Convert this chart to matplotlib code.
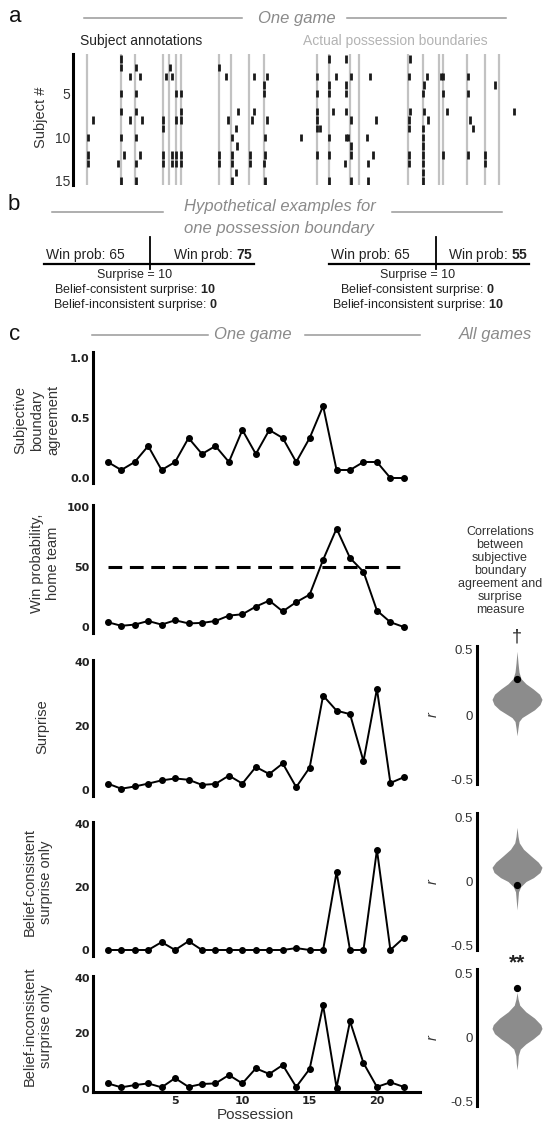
import numpy as np
import matplotlib
matplotlib.use("Agg")
import matplotlib.pyplot as plt

plt.rcParams["font.family"] = ["Liberation Sans", "DejaVu Sans"]
plt.rcParams["mathtext.fontset"] = "custom"
plt.rcParams["mathtext.rm"] = "Liberation Sans"
plt.rcParams["mathtext.bf"] = "Liberation Sans:bold"

W, H = 546, 1126
TXT = "#333333"
GRAY = "#8a8a8a"

# ---- panel a: one game (game time in arbitrary units)
boundaries = [87, 121, 135, 163, 169, 176, 181, 219, 231, 249, 264, 317, 329,
              350, 359, 408, 423, 439, 443, 467, 485, 499]
annotations = [
    [121, 329, 346, 410],                                                   # 1
    [121, 136, 170, 219],                                                   # 2
    [130, 140, 166, 172, 226, 254, 267, 317, 336, 351, 370, 409, 427, 441, 443, 468],
    [264, 329, 346, 424, 495],                                              # 4
    [121, 136, 176, 181, 264, 317, 329, 346, 423, 443, 468],                # 5
    [],                                                                     # 6
    [121, 136, 181, 238, 254, 317, 333, 346, 410, 424, 447, 514],           # 7
    [93, 130, 142, 163, 176, 181, 228, 252, 267, 317, 351, 376, 409, 428, 470],
    [163, 236, 317, 320, 409, 423, 473],                                    # 9
    [88, 121, 136, 232, 265, 301, 329, 346, 348, 367, 423],                 # 10
    [237, 351, 423],                                                        # 11
    [88, 124, 140, 163, 172, 176, 181, 219, 232, 250, 265, 317, 329, 351, 373, 409, 423, 443, 468, 485],
    [88, 118, 136, 163, 172, 176, 181, 219, 232, 250, 264, 345, 368, 409, 423, 485],
    [236, 423],                                                             # 14
    [121, 136, 232, 265, 329, 351, 368, 423],                               # 15
]

# ---- panel b: hypothetical win probabilities around one boundary
win_before = [65, 65]
win_after = [75, 55]

# ---- panel c: one game
possession = np.arange(23)
agreement = np.array([2, 1, 2, 4, 1, 2, 5, 3, 4, 2, 6, 3, 6, 5, 2, 5, 9, 1, 1, 2, 2, 0, 0]) / 15
win_prob = [4, 1, 2, 5, 2, 5.6, 3, 3.4, 5, 9.5, 10.6, 17, 22, 13, 20.7, 27, 56, 82, 57.5, 46, 13.7, 4, 0]
surprise = [2, 0.4, 1.1, 2, 3, 3.6, 3.2, 1.6, 1.9, 4.5, 2, 7.2, 5, 8.3, 0.9, 7, 29.5, 24.8, 23.7, 9, 31.6, 2.2, 4]
consistent = [0, 0, 0, 0, 2.5, 0, 2.8, 0, 0, 0, 0, 0, 0, 0, 0.6, 0, 0, 24.7, 0, 0, 31.8, 0, 3.9]
inconsistent = [2, 0.6, 1.4, 2, 0.6, 3.9, 0.75, 1.8, 2, 5, 2, 7.4, 5.4, 8.6, 0.75, 7.2, 30, 0.5, 24.3, 9.3, 0.75, 2.4, 0.75]

# ---- all games: violin outlines (r, relative half-width) and this game's r
viol_r = [
    [0.49, 0.40, 0.33, 0.28, 0.24, 0.20, 0.16, 0.12, 0.08, 0.04, 0.01, -0.02, -0.05, -0.10, -0.16],
    [0.42, 0.35, 0.30, 0.25, 0.20, 0.15, 0.11, 0.07, 0.03, 0.00, -0.04, -0.08, -0.15, -0.22],
    [0.35, 0.30, 0.25, 0.20, 0.15, 0.10, 0.07, 0.03, -0.01, -0.05, -0.09, -0.14, -0.20, -0.25],
]
viol_w = [
    [0.0, 0.04, 0.08, 0.16, 0.36, 0.65, 0.9, 1.0, 0.92, 0.7, 0.45, 0.2, 0.08, 0.04, 0.0],
    [0.0, 0.04, 0.09, 0.26, 0.55, 0.85, 1.0, 0.92, 0.66, 0.36, 0.15, 0.06, 0.03, 0.0],
    [0.0, 0.04, 0.11, 0.35, 0.7, 0.95, 1.0, 0.9, 0.65, 0.35, 0.13, 0.05, 0.03, 0.0],
]
game_r = [0.28, -0.03, 0.38]
signif = ["\u2020", "", "**"]

fig = plt.figure(figsize=(W / 100, H / 100), dpi=100)

# overlay in pixel coordinates for headers and panel b sketch
ov = fig.add_axes([0, 0, 1, 1], zorder=0)
ov.set_xlim(0, W)
ov.set_ylim(H, 0)
ov.axis("off")


def px_axes(x0, y0, x1, y1):
    return fig.add_axes([x0 / W, 1 - y1 / H, (x1 - x0) / W, (y1 - y0) / H])


def header(text, xc, y, x0, x1, gap_l, gap_r):
    ov.text(xc, y, text, style="italic", color=GRAY, fontsize=12, ha="center", va="center")
    ov.plot([x0, gap_l], [y, y], color="#999999", lw=1.1)
    ov.plot([gap_r, x1], [y, y], color="#999999", lw=1.1)


# panel letters
for lab, x, y in [("a", 15, 16), ("b", 14, 205), ("c", 15, 334)]:
    ov.text(x, y, lab, fontsize=16, ha="center", va="center", color="#111111")

# ---- panel a
header("One game", 297, 18, 84, 506, 242, 347)
ov.text(80, 41, "Subject annotations", fontsize=10, color="#222222", va="center")
ov.text(303, 41, "Actual possession boundaries", fontsize=10, color="#b3b3b3", va="center")

axa = px_axes(73, 54, 520, 185)
for b in boundaries:
    axa.axvline(b, color="#c2c2c2", lw=1.6, zorder=1)
for s, times in enumerate(annotations, start=1):
    axa.vlines(times, s - 0.42, s + 0.42, color="#1a1a1a", lw=2, zorder=2)
axa.set_xlim(73, 520)
axa.set_ylim(15.46, 0.43)
axa.set_yticks([5, 10, 15])
axa.tick_params(axis="y", length=0, pad=2, labelsize=10, labelcolor=TXT)
axa.set_xticks([])
for sp in ["top", "right", "bottom"]:
    axa.spines[sp].set_visible(False)
axa.spines["left"].set_linewidth(2.2)
ov.text(41, 117, "Subject #", rotation=90, fontsize=10.5, color=TXT, ha="center", va="center")

# ---- panel b
ov.text(280, 206, "Hypothetical examples for", style="italic", color=GRAY, fontsize=12,
        ha="center", va="center")
ov.text(279, 228, "one possession boundary", style="italic", color=GRAY, fontsize=12,
        ha="center", va="center")
ov.plot([52, 163], [212, 212], color="#999999", lw=1.1)
ov.plot([392, 502], [212, 212], color="#999999", lw=1.1)

for (x0, x1, xb, xc), pb, pa in zip([(44, 254, 150, 135), (329, 529, 436, 418)],
                                    win_before, win_after):
    diff = pa - pb
    lead = np.sign(pb - 50)
    cons = max(0, diff * lead)
    incons = max(0, -diff * lead)
    ov.plot([x0, x1], [264, 264], color="black", lw=1.6)
    ov.plot([xb, xb], [237, 269], color="black", lw=1.3)
    ov.text(x0 + 2, 259, f"Win prob: {pb}", fontsize=10, color="#222222", ha="left", va="baseline")
    ov.text(x1 - 1, 259, f"Win prob: $\\mathbf{{{pa}}}$", fontsize=10, color="#222222",
            ha="right", va="baseline")
    ov.text(xc, 275, f"Surprise = {abs(diff)}", fontsize=9, color="#222222", ha="center", va="center")
    ov.text(xc, 290, f"Belief-consistent surprise: $\\mathbf{{{cons}}}$", fontsize=9,
            color="#222222", ha="center", va="center")
    ov.text(xc, 305, f"Belief-inconsistent surprise: $\\mathbf{{{incons}}}$", fontsize=9,
            color="#222222", ha="center", va="center")

# ---- panel c
header("One game", 253, 335, 92, 420, 208, 305)
ov.text(495, 335, "All games", style="italic", color=GRAY, fontsize=12, ha="center", va="center")
ov.text(500, 571, "Correlations\nbetween\nsubjective\nboundary\nagreement and\nsurprise\nmeasure",
        fontsize=9, color=TXT, ha="center", va="center", linespacing=1.1)

XL = (-1.1, 23.2)


def line_axes(v_lo, p_lo, v_hi, p_hi, ylim):
    s = (p_lo - p_hi) / (v_hi - v_lo)
    top = p_hi - (ylim[1] - v_hi) * s
    bot = p_lo + (v_lo - ylim[0]) * s
    ax = px_axes(93, top, 420, bot)
    ax.set_ylim(*ylim)
    ax.set_xlim(*XL)
    for sp in ["top", "right"]:
        ax.spines[sp].set_visible(False)
    ax.spines["left"].set_linewidth(2.2)
    ax.spines["bottom"].set_linewidth(2.2)
    ax.tick_params(length=0, pad=2.5, labelsize=8, labelcolor="#222222")
    return ax


panels = [
    (agreement, (0, 478, 1, 358), (-0.04, 1.05), [0, 0.5, 1.0], ["0.0", "0.5", "1.0"],
     "Subjective\nboundary\nagreement", 37, 420),
    (win_prob, (0, 627, 100, 507), (-5, 102), [0, 50, 100], ["0", "50", "100"],
     "Win probability,\nhome team", 45, 563),
    (surprise, (0, 790, 40, 662), (-2, 40.5), [0, 20, 40], ["0", "20", "40"],
     "Surprise", 42, 727),
    (consistent, (0, 950, 40, 824), (-2, 40.5), [0, 20, 40], ["0", "20", "40"],
     "Belief-consistent\nsurprise only", 38, 882),
    (inconsistent, (0, 1089, 40, 977.5), (-1.2, 40.6), [0, 20, 40], ["0", "20", "40"],
     "Belief-inconsistent\nsurprise only", 38, 1026),
]

for i, (vals, cal, ylim, yt, ytl, ylab, lx, ly) in enumerate(panels):
    ax = line_axes(*cal, ylim)
    ax.plot(possession, vals, color="black", lw=1.4, marker="o", ms=4, zorder=3, clip_on=False)
    if i == 1:
        ax.hlines(50, possession[0], possession[-1], color="black", lw=2.2,
                  linestyles=(0, (4.5, 2.5)))
    ax.set_yticks(yt)
    ax.set_yticklabels(ytl, fontfamily="DejaVu Sans", fontweight="bold")
    if i == 4:
        ax.set_xticks([5, 10, 15, 20])
        ax.set_xticklabels(["5", "10", "15", "20"], fontfamily="DejaVu Sans", fontweight="bold")
    else:
        ax.set_xticks([])
        ax.spines["bottom"].set_visible(False)
    ov.text(lx, ly, ylab, rotation=90, fontsize=10.5, color=TXT, ha="center", va="center",
            multialignment="center", linespacing=1.25)

ov.text(255, 1115, "Possession", fontsize=11, color=TXT, ha="center", va="center")

# violins
viol_rows = [(650, 780), (817, 946), (973, 1102)]
VC, HW = 0.58, 0.362
for k, (p_hi, p_lo) in enumerate(viol_rows):
    s = (p_lo - p_hi) / 1.0
    ylim = (-0.53, 0.53)
    top = p_hi - 0.03 * s
    bot = p_lo + 0.03 * s
    ax = px_axes(477, top, 546, bot)
    ax.set_ylim(*ylim)
    ax.set_xlim(0, 1)
    r = np.array(viol_r[k])
    w = np.array(viol_w[k]) * HW
    ax.fill_betweenx(r, VC - w, VC + w, color="#8c8c8c", lw=0)
    ax.plot([VC], [game_r[k]], "o", color="black", ms=4.2, zorder=3)
    if signif[k] == "**":
        ax.text(VC, 0.58, signif[k], ha="center", va="center", fontsize=15,
                fontweight="bold", color="#222222", clip_on=False)
    elif signif[k]:
        ax.text(VC, 0.6, signif[k], ha="center", va="center", fontsize=13,
                color="#222222", clip_on=False)
    for sp in ["top", "right", "bottom"]:
        ax.spines[sp].set_visible(False)
    ax.spines["left"].set_linewidth(2.2)
    ax.set_xticks([])
    ax.set_yticks([-0.5, 0, 0.5])
    ax.set_yticklabels(["-0.5", "0", "0.5"])
    ax.tick_params(length=0, pad=3, labelsize=9.5, labelcolor=TXT)
    ov.text(433, (p_hi + p_lo) / 2, "r", style="italic", rotation=90, fontsize=10.5,
            color=TXT, ha="center", va="center")

fig.savefig("out.png", dpi=100)
